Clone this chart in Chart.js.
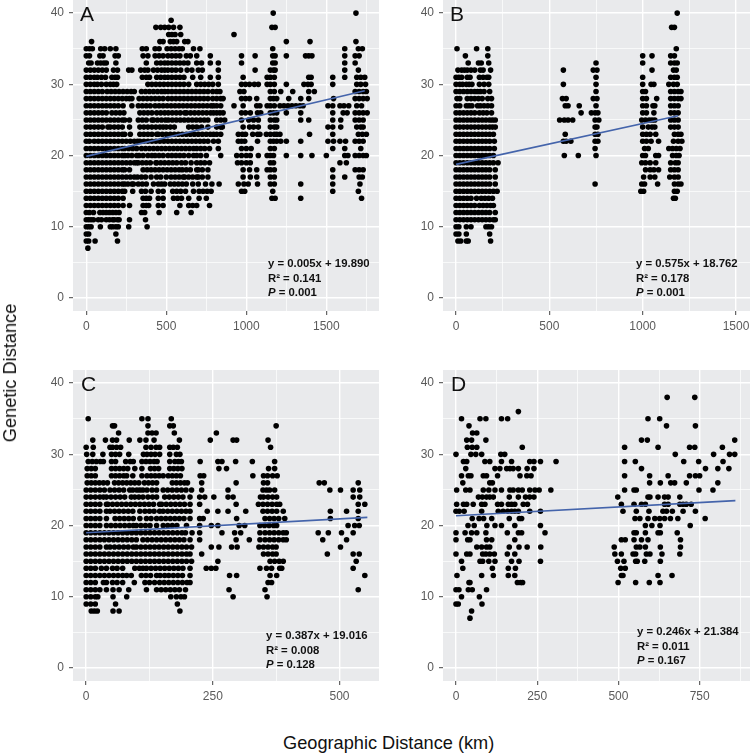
<!DOCTYPE html>
<html><head><meta charset="utf-8">
<script src="https://cdn.jsdelivr.net/npm/chart.js@4/dist/chart.umd.min.js"></script>
<style>
html,body{margin:0;padding:0;background:#fff;overflow:hidden}
#page{position:relative;width:750px;height:753px;font-family:"Liberation Sans",Arial,sans-serif}
canvas{position:absolute}
.letter{position:absolute;font-size:21px;line-height:21px;color:#111}
.note{position:absolute;font-size:11.35px;font-weight:bold;line-height:14.7px;color:#111;white-space:nowrap}
.title{position:absolute;font-size:18.2px;line-height:20px;color:#111;white-space:nowrap}
</style></head><body>
<div id="page">
<canvas id="cA" width="379" height="330" style="left:0;top:0"></canvas>
<canvas id="cB" width="371" height="330" style="left:379px;top:0"></canvas>
<canvas id="cC" width="379" height="340" style="left:0;top:360px"></canvas>
<canvas id="cD" width="371" height="340" style="left:379px;top:360px"></canvas>
<div class="letter" style="left:80px;top:3px">A</div>
<div class="letter" style="left:450px;top:3px">B</div>
<div class="letter" style="left:81px;top:373px">C</div>
<div class="letter" style="left:451px;top:373px">D</div>
<div class="note" style="left:268px;top:256px">y = 0.005x + 19.890<br>R² = 0.141<br><i>P</i> = 0.001</div>
<div class="note" style="left:636px;top:256px">y = 0.575x + 18.762<br>R² = 0.178<br><i>P</i> = 0.001</div>
<div class="note" style="left:266px;top:628px">y = 0.387x + 19.016<br>R² = 0.008<br><i>P</i> = 0.128</div>
<div class="note" style="left:637px;top:624px">y = 0.246x + 21.384<br>R² = 0.011<br><i>P</i> = 0.167</div>
<div class="title" style="left:283px;top:733px">Geographic Distance (km)</div>
<div class="title" style="left:10px;top:373px;transform:translate(-50%,-50%) rotate(-90deg)">Genetic Distance</div>
</div>
<script>
const rowsA=[
[40,[1168,1685]],[39,[530]],[38,[435,465,490,515,545,585,1160,1180]],[37,[515,535,555,590,923]],
[36,[33,460,480,525,545,565,615,635,1250,1398,1685]],
[35,[0,20,38,90,115,150,185,350,375,430,455,505,530,555,580,600,670,710,1165,1615,1700,1725]],
[34,[0,20,85,105,180,200,355,385,430,455,480,510,535,560,585,625,650,690,775,970,1055,1165,1180,1250,1370,1390,1410,1615,1680,1705]],
[33,[15,30,70,90,110,125,185,375,440,465,490,510,535,560,585,610,635,690,720,775,825,970,1165,1180,1615,1680]],
[32,[0,25,50,75,100,125,170,195,265,285,340,365,385,420,445,470,490,510,535,560,590,630,660,700,725,825,1055,1150,1170,1180,1615,1700]],
[31,[0,25,50,70,95,120,160,180,195,350,375,395,440,465,490,510,535,560,585,610,665,715,775,825,980,1130,1150,1175,1390,1405,1540,1615,1690,1715,1740]],
[30,[0,25,50,70,95,125,150,170,190,385,410,435,460,485,510,535,560,585,610,640,690,715,740,765,790,825,970,995,1020,1050,1075,1130,1150,1175,1250,1360,1385,1405,1540,1690,1715,1745]],
[29,[0,25,50,75,100,130,155,180,205,230,255,280,300,345,370,395,420,445,470,490,510,535,560,585,610,635,660,685,710,735,760,790,815,835,960,985,1150,1175,1215,1290,1390,1425,1680,1705,1730,1750]],
[28,[0,25,50,75,100,125,150,175,200,225,250,270,285,330,355,380,405,430,455,480,510,535,560,585,610,635,660,685,710,735,760,790,815,840,855,970,995,1020,1065,1150,1170,1190,1265,1340,1390,1545,1680,1705,1730,1755]],
[27,[0,25,50,75,100,125,150,175,200,230,285,325,350,375,400,430,455,480,505,530,555,580,605,630,655,680,705,730,755,780,795,815,840,923,980,1065,1085,1130,1150,1175,1210,1235,1260,1285,1310,1335,1355,1510,1540,1585,1610,1640,1690,1720]],
[26,[0,25,50,75,100,125,160,185,210,235,335,360,385,410,440,465,490,512,537,562,587,615,627,652,677,702,727,752,777,795,815,835,855,970,995,1025,1070,1090,1150,1170,1190,1250,1340,1540,1605,1630,1680,1705,1730,1755]],
[25,[0,25,50,75,100,125,150,175,200,225,240,270,325,350,375,410,420,445,470,495,512,537,562,587,612,637,662,687,712,737,760,815,840,865,970,1015,1045,1075,1150,1175,1190,1340,1390,1540,1590,1680,1705,1730]],
[24,[0,25,50,75,100,135,150,175,200,225,270,335,360,385,410,435,460,480,500,525,550,640,665,690,720,760,815,840,850,980,1020,1045,1075,1150,1175,1190,1510,1540,1590,1690,1715,1730]],
[23,[0,25,50,75,100,125,150,175,200,225,240,275,335,360,385,410,440,450,475,500,525,550,575,600,625,650,675,700,725,750,775,795,815,840,950,975,995,1040,1070,1085,1125,1150,1175,1190,1210,1395,1540,1700,1725,1750]],
[22,[0,20,50,75,100,125,150,175,200,225,250,275,300,320,335,360,385,410,435,460,485,510,535,560,585,610,635,660,685,710,735,760,795,825,950,970,990,1070,1150,1170,1190,1215,1250,1340,1510,1545,1585,1620,1680,1705,1730]],
[21,[0,25,50,75,100,125,150,175,200,225,240,265,290,315,345,370,395,420,445,470,495,520,545,570,595,620,645,670,690,715,740,770,825,970,1000,1030,1150,1175,1540,1615,1715]],
[20,[0,25,50,75,100,125,150,175,200,225,240,260,285,315,330,355,385,410,430,455,480,510,535,560,585,610,640,670,690,715,750,840,940,970,1000,1025,1075,1130,1150,1170,1250,1340,1410,1500,1615,1635,1680,1705,1730,1750]],
[19,[0,25,50,75,100,125,150,175,200,225,250,275,300,315,325,350,375,400,435,440,465,490,515,540,565,595,620,655,690,715,740,770,945,970,1000,1025,1150,1170,1585,1625]],
[18,[0,25,50,75,100,125,150,175,200,225,240,270,355,380,405,430,455,480,505,530,555,580,600,625,650,690,700,725,760,980,1020,1065,1130,1150,1175,1540,1680,1705,1730]],
[17,[0,25,50,75,100,125,150,175,200,225,250,275,300,320,345,370,405,440,465,500,530,555,580,605,615,640,665,690,700,725,760,980,1025,1065,1150,1175,1540,1615,1705,1725]],
[16,[0,25,50,75,100,125,150,175,200,225,240,260,285,295,325,350,375,420,450,470,490,525,550,575,600,625,665,700,745,785,830,950,985,1012,1070,1150,1175,1340,1540,1710]],
[15,[0,25,50,75,100,125,150,175,200,225,240,290,345,370,405,450,480,540,565,590,620,670,705,730,755,780,970,990,1165,1540,1700]],
[14,[0,25,50,75,100,125,150,175,200,230,355,375,395,450,480,545,570,595,640,705,750,1160,1180,1340,1720]],
[13,[0,25,50,75,100,125,150,175,200,230,270,355,375,390,450,480,585,640,665,690,770]],
[12,[0,20,45,85,105,125,145,165,185,205,345,365,455,565,655]],
[11,[0,15,30,45,75,95,125,145,165,175,195,205,270,370]],
[10,[0,15,30,88,150,165,185,200,265,380]],[9,[0,15,185]],[8,[0,15,55,195]],[7,[10]]
];
const rowsB=[
[40,[1185]],[38,[1155,1170]],[35,[5,110,170,1180]],[34,[50,170,1000,1050,1150,1170]],
[33,[65,120,135,175,750,1000,1150,1170,1185]],
[32,[10,30,45,60,80,100,130,145,185,575,735,755,1050,1165,1180]],
[31,[0,15,30,60,75,125,145,165,175,750,1000,1150,1170,1185]],
[30,[0,20,35,55,70,85,125,150,175,575,750,1000,1045,1060,1140,1165,1185]],
[29,[0,20,40,60,80,100,115,130,150,180,750,1000,1015,1150,1170,1190,1205]],
[28,[5,20,60,80,100,120,140,170,190,570,590,735,755,1000,1020,1075,1150,1170,1190,1205]],
[27,[0,20,55,70,85,115,130,150,170,190,585,600,660,750,1000,1020,1055,1065,1150,1170,1190]],
[26,[0,20,40,60,80,100,125,145,165,190,670,725,745,760,1000,1020,1060,1150,1170,1190]],
[25,[0,20,40,60,80,100,120,140,160,180,195,210,555,580,600,625,745,765,995,1015,1035,1050,1065,1150,1170,1190]],
[24,[0,20,40,60,80,100,120,140,160,180,195,210,745,755,1000,1030,1050,1065,1150,1170,1190]],
[23,[0,20,40,60,80,100,120,140,160,180,200,585,745,760,1000,1020,1040,1070,1170,1190,1205]],
[22,[0,20,40,60,80,100,120,140,160,180,205,575,590,615,745,760,1000,1020,1045,1085,1165,1190,1210]],
[21,[0,20,40,60,80,100,120,140,160,180,205,745,1010,1030,1140,1160,1180,1200]],
[20,[0,20,40,60,80,100,120,140,160,180,200,580,655,750,1000,1015,1070,1085,1160,1180,1195]],
[19,[0,20,40,60,80,100,120,140,160,180,200,225,995,1015,1040,1070,1150,1175,1190]],
[18,[0,20,40,60,80,100,120,140,160,180,210,1015,1040,1060,1085,1150,1170,1190]],
[17,[0,20,40,60,80,100,120,140,160,180,210,1005,1040,1065,1145,1170,1190]],
[16,[0,20,40,60,80,100,120,140,160,180,210,745,995,1010,1080,1170,1190,1205]],
[15,[0,20,40,60,80,100,120,140,160,180,200,220,990,1005,1170,1185]],
[14,[0,20,40,60,80,110,135,155,175,195,1165,1175]],
[13,[0,20,40,60,80,100,125,145,165,185,200]],
[12,[0,20,40,60,80,100,120,140,160,180,210]],
[11,[0,20,40,60,80,100,120,140,160,180,200,210]],
[10,[0,15,55,80,160,175,190]],[9,[0,15,55,180]],[8,[10,25,55,65,185]]
];
const rowsC=[
[35,[4,110,122,168]],[34,[52,56,122,165,172,375]],[33,[64,122,130,138,174,257]],
[32,[13,38,52,60,85,106,118,134,184,245,290,297,359]],
[31,[0,14,47,52,60,68,118,128,138,145,165,172,180,364]],
[30,[1,13,33,50,58,66,84,113,120,128,136,145,165,178,185]],
[29,[4,12,20,28,34,50,58,78,87,93,110,118,126,134,140,165,175,182,188,225,260,268,295,328,372]],
[28,[2,10,18,50,58,66,74,82,96,110,127,135,143,165,173,181,189,262,277,360,372]],
[27,[2,10,18,50,58,66,74,80,92,110,120,128,136,144,152,162,170,178,186,225,232,329,350,358,368,377]],
[26,[2,10,18,26,34,42,56,64,72,80,88,96,104,115,123,131,139,170,178,186,194,200,228,296,350,358,460,470,537]],
[25,[0,9,18,27,36,47,56,65,74,86,92,100,106,112,120,130,139,152,161,170,179,188,197,208,228,280,349,356,362,372,481,502,527,540]],
[24,[0,9,18,27,34,40,49,58,67,76,89,96,104,112,122,131,139,155,164,173,182,191,205,224,234,252,280,290,344,350,359,368,376,527,540]],
[23,[0,9,18,27,40,43,52,61,70,79,88,97,106,115,124,133,145,149,158,167,176,185,194,205,224,296,340,349,358,367,376,382,537,550]],
[22,[0,9,18,27,40,47,56,65,74,83,92,106,116,125,134,145,152,161,170,179,188,197,205,239,260,280,315,349,358,367,376,389,482,514,537]],
[21,[0,9,18,27,40,57,66,75,84,93,106,119,128,139,148,157,166,175,184,193,205,224,231,297,353,362,371,380,392,482,537]],
[20,[0,9,18,27,40,49,58,67,76,85,93,99,108,117,126,139,152,161,170,179,198,224,247,260,302,313,343,352,361,370,376,517,530,539]],
[19,[0,9,18,27,36,45,54,63,72,81,90,99,108,117,126,135,144,153,162,171,180,189,196,209,224,268,293,305,343,353,362,371,380,389,395,458,478,504,527]],
[18,[0,9,18,27,36,45,54,63,72,81,90,99,112,121,130,139,148,157,166,175,184,193,205,224,296,322,343,353,362,371,380,389,395,467,514]],
[17,[0,9,18,27,40,47,56,65,74,83,93,99,108,117,126,135,144,153,162,171,180,189,198,208,247,262,287,298,341,350,359,368,375,502]],
[16,[0,9,18,27,36,45,54,63,72,81,90,99,108,117,126,135,144,153,162,171,180,189,198,205,228,350,359,368,375,476,527,539]],
[15,[0,9,18,27,36,45,54,63,72,81,90,99,108,117,126,135,144,153,162,171,180,189,198,208,260,363,372,381,389,533]],
[14,[0,9,18,30,40,52,61,72,96,105,112,119,128,137,146,155,164,173,182,191,205,237,247,256,343,356,366,382,386,527]],
[13,[0,9,18,27,36,45,54,63,72,80,89,109,118,127,139,146,155,163,172,181,190,205,283,297,363,376,550]],
[12,[0,9,18,34,40,52,61,72,95,116,125,135,145,154,163,172,181,190,199,205,359,366]],
[11,[0,9,18,27,40,53,65,84,119,139,148,157,166,175,184,196,282,353,537]],
[10,[0,9,18,23,53,80,167,178,187,194,290,357]],[9,[0,9,18,58,180]],[8,[10,16,22,53,65,185]]
];
const rowsD=[
[38,[650,735]],[36,[192]],[35,[17,74,92,140,159,591,627]],[34,[40,648,737]],[33,[51,64]],
[32,[33,48,92,571,589,858]],[31,[35,50,64,204,519,622,719,735,820]],
[30,[0,46,61,79,138,150,675,793,842,858]],
[29,[23,33,89,104,140,171,227,240,260,308,519,552,701,747,822]],
[28,[30,120,135,156,166,176,192,219,240,571,768,806,840]],
[27,[17,38,46,84,94,128,197,218,231,519,596,653,719,737,750]],
[26,[21,104,112,596,629,661,673,709,806]],
[25,[2,30,43,84,101,120,140,166,176,192,204,227,243,256,292,519,548,555,748,791]],
[24,[69,81,94,104,115,164,192,214,227,240,498,591,597,622,642,653,689]],
[23,[2,23,33,53,79,89,128,140,161,171,181,207,220,509,548,571,583,642,653,689,699,709,724]],
[22,[0,10,25,79,130,145,159,171,181,192,227,260,514,555,594,637,648,666,699,737]],
[21,[50,71,85,110,164,195,202,551,566,591,612,627,642,660,683,767]],
[20,[37,56,95,120,140,181,260,583,603,628,721]],
[19,[0,28,48,64,92,158,192,202,274,548,555,583,622,629,681]],
[18,[0,36,43,94,110,181,509,521,548,571,591,691]],
[17,[64,79,94,104,164,194,219,261,487,555,566,583,629,691]],
[16,[0,33,43,82,92,104,118,158,181,489,509,545,553,586,597,634,689]],
[15,[17,74,82,101,120,171,194,260,497,517,553,558,581,629]],
[14,[21,112,161,183,507,521]],[13,[3,79,115,161,181,509,514,622,665]],
[12,[40,43,189,199,205,499,553,595,628]],[11,[0,9,38,50,94]],[10,[17,72]],[9,[0,7,80]],[8,[48]],[7,[43]]
];
const lineA=[[0,19.89],[1740,29.1]];
const lineB=[[0,18.76],[1190,25.6]];
const lineC=[[0,19.0],[555,21.15]];
const lineD=[[0,21.38],[860,23.5]];
const yMajor=10;

const panelBg={id:'panelBg',beforeDraw(c){const a=c.chartArea,g=c.ctx;g.save();g.fillStyle='#e9eaec';g.fillRect(a.left,a.top,a.right-a.left,a.bottom-a.top);g.restore();}};
function zero(s){s.paddingTop=0;s.paddingBottom=0;s.paddingLeft=0;s.paddingRight=0;}
function axis(min,max,step,major,labelPad,fit){
  const isMajor=v=>Math.abs(v%major)<1e-6;
  return {type:'linear',min,max,border:{display:false},
    grid:{color:'#fff',drawTicks:true,tickLength:4,tickWidth:1,
      lineWidth:c=>c.tick&&isMajor(c.tick.value)?1.4:0.7,
      tickColor:c=>c.tick&&isMajor(c.tick.value)?'#444':'rgba(0,0,0,0)'},
    ticks:{stepSize:step,includeBounds:false,autoSkip:false,maxRotation:0,color:'#5a5a5a',padding:labelPad,
      font:{family:'"Liberation Sans"',size:12},callback:v=>isMajor(v)?String(v):''},
    afterFit(s){fit(s);zero(s);}};
}
function panel(id,rows,line,xmin,xmax,xstep,xmajor,leftW,padTop){
  const pts=[];rows.forEach(r=>r[1].forEach(x=>pts.push({x,y:r[0]})));
  new Chart(document.getElementById(id),{type:'scatter',plugins:[panelBg],
    data:{datasets:[
      {type:'line',data:line.map(p=>({x:p[0],y:p[1]})),borderColor:'#4464ab',borderWidth:1.6,pointRadius:0,fill:false,order:0},
      {data:pts,backgroundColor:'#000',borderWidth:0,pointRadius:2.8,order:1}]},
    options:{responsive:false,animation:false,layout:{autoPadding:false,padding:{top:padTop,left:0,right:0,bottom:0}},
      plugins:{legend:{display:false},tooltip:{enabled:false}},
      scales:{x:axis(xmin,xmax,xstep,xmajor,4,s=>{s.height=19;}),
              y:axis(-1.82,41.84,5,yMajor,5,s=>{s.width=leftW;})}}});
}
panel('cA',rowsA,lineA,-83,1829,250,500,73,0);
panel('cB',rowsB,lineB,-70,1575,250,500,64,0);
panel('cC',rowsC,lineC,-26,578,125,250,73,10);
panel('cD',rowsD,lineD,-40,905,125,250,64,10);
</script>
</body></html>
